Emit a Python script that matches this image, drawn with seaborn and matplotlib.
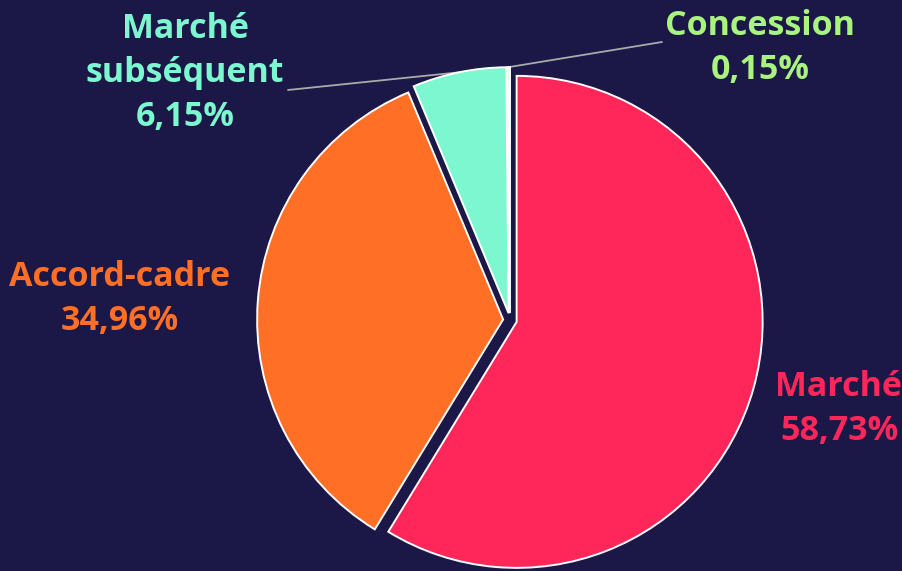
import numpy as np
import matplotlib
matplotlib.use("Agg")
import matplotlib.pyplot as plt
import seaborn as sns

# data
categories = ["Marché", "Accord-cadre", "Marché subséquent", "Concession"]
shares = [58.73, 34.96, 6.15, 0.15]
label_texts = ["Marché\n58,73%", "Accord-cadre\n34,96%",
               "Marché\nsubséquent\n6,15%", "Concession\n0,15%"]

BG = "#1b1747"
colors = sns.color_palette(["#ff2659", "#ff6f26", "#7df7cf", "#a8f47e"])

sns.set_theme(style="dark", rc={"figure.facecolor": BG, "axes.facecolor": BG})
plt.rcParams["font.family"] = ["Open Sans", "DejaVu Sans"]

W, H = 902, 571
CX, CY, R = 510, 320, 246  # pie centre / radius in pixels

fig = plt.figure(figsize=(W / 100, H / 100), dpi=100)
ax = fig.add_axes([0, 0, 1, 1])


def px(x, y):
    return (x - CX) / R, (CY - y) / R


wedges, _ = ax.pie(shares, colors=colors, startangle=90, counterclock=False,
                   explode=[0.028] * 4, radius=1,
                   wedgeprops=dict(edgecolor="white", linewidth=1.4, zorder=3))

ax.set_xlim(-CX / R, (W - CX) / R)
ax.set_ylim(-(H - CY) / R, CY / R)
ax.set_aspect("auto")
ax.axis("off")

# label positions (pixel centres of the text blocks)
label_pos = [(839, 409), (120, 299), (185, 73), (760, 48)]
# leader-line ends for the two small slices
line_ends = {2: (288, 90), 3: (662, 42)}

for i, (w, txt, (lx, ly)) in enumerate(zip(wedges, label_texts, label_pos)):
    x, y = px(lx, ly)
    ax.text(x, y, txt, ha="center", va="center", color=colors[i],
            fontsize=24.5, fontweight="bold", linespacing=1.38, zorder=5)
    if i in line_ends:
        ang = np.deg2rad((w.theta1 + w.theta2) / 2)
        cx, cy = w.center
        sx, sy = cx + w.r * np.cos(ang), cy + w.r * np.sin(ang)
        ex, ey = px(*line_ends[i])
        ax.plot([sx, ex], [sy, ey], color="#aaaaaa", lw=1.3, zorder=1)

fig.savefig("out.png", dpi=100, facecolor=BG)
